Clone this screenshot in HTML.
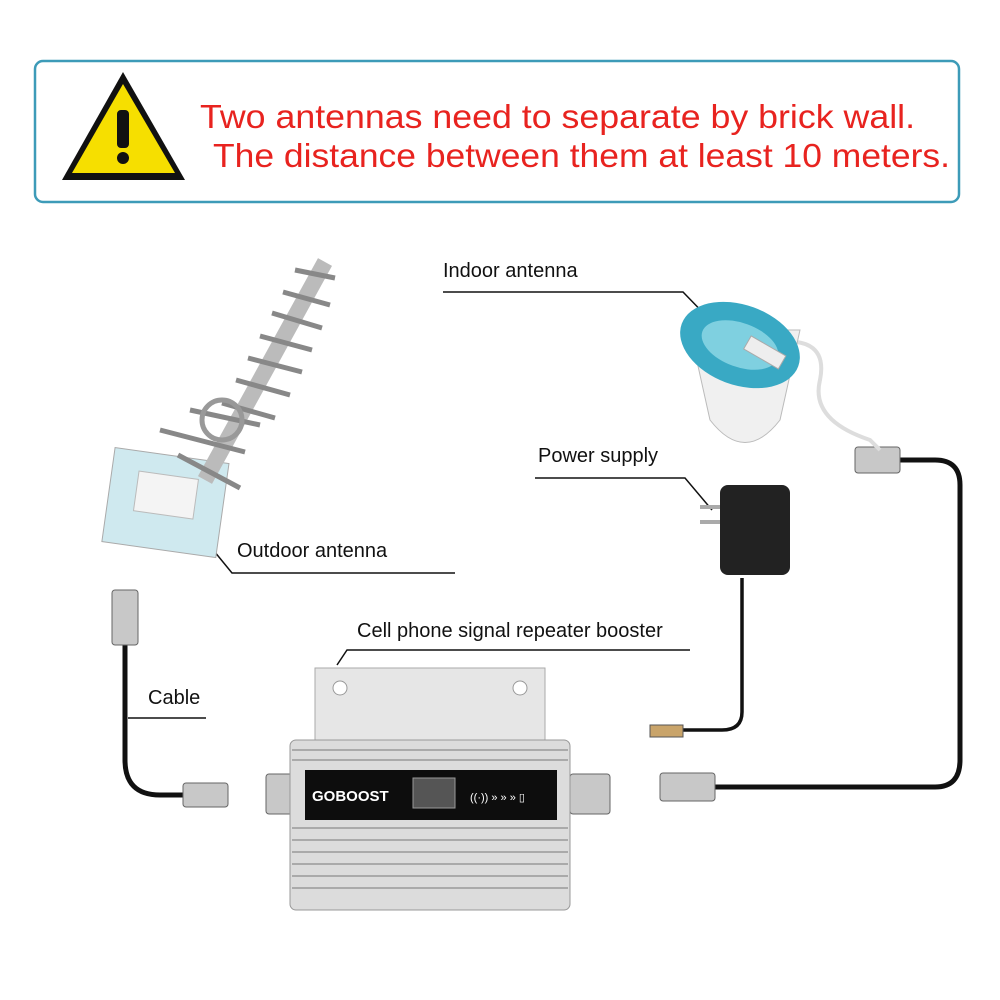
<!DOCTYPE html>
<html><head><style>
body{margin:0;background:#fff;}
svg{display:block;font-family:"Liberation Sans",sans-serif;}
</style></head><body>
<svg width="1000" height="1000" viewBox="0 0 1000 1000">
<rect width="1000" height="1000" fill="#fff"/>
<!-- banner -->
<rect x="35" y="61" width="924" height="141" rx="8" fill="#fff" stroke="#3d9bb8" stroke-width="2.5"/>
<polygon points="123,72 62,180 185,180" fill="#111"/>
<polygon points="123,84 72,173 175,173" fill="#f6df00"/>
<rect x="117" y="110" width="12" height="38" rx="4" fill="#111"/>
<circle cx="123" cy="158" r="6" fill="#111"/>
<text x="200" y="128" font-size="33" fill="#e8231f" textLength="715" lengthAdjust="spacingAndGlyphs">Two antennas need to separate by brick wall.</text>
<text x="213" y="167" font-size="33" fill="#e8231f" textLength="737" lengthAdjust="spacingAndGlyphs">The distance between them at least 10 meters.</text>

<!-- labels -->
<g font-size="20" fill="#111">
<text x="443" y="277">Indoor  antenna</text>
<text x="538" y="462">Power supply</text>
<text x="237" y="557">Outdoor  antenna</text>
<text x="357" y="637">Cell phone signal repeater booster</text>
<text x="148" y="704">Cable</text>
</g>
<g stroke="#111" stroke-width="1.5" fill="none">
<polyline points="443,292 683,292 715,325"/>
<polyline points="535,478 685,478 712,510"/>
<polyline points="205,540 232,573 455,573"/>
<polyline points="337,665 347,650 690,650"/>
<polyline points="128,718 206,718"/>
</g>

<!-- cables -->
<g stroke="#111" stroke-width="5" fill="none">
<path d="M125,645 L125,760 Q125,795 160,795 L185,795"/>
<path d="M715,787 L935,787 Q960,787 960,760 L960,485 Q960,460 935,460 L900,460"/>
</g>
<path d="M742,578 L742,712 Q742,730 722,730 L683,730" stroke="#111" stroke-width="3.5" fill="none"/>
<rect x="650" y="725" width="33" height="12" fill="#c9a46a" stroke="#555"/>

<!-- connectors -->
<g fill="#c8c8c8" stroke="#666">
<rect x="112" y="590" width="26" height="55" rx="3"/>
<rect x="183" y="783" width="45" height="24" rx="3"/>
<rect x="660" y="773" width="55" height="28" rx="3"/>
<rect x="855" y="447" width="45" height="26" rx="3"/>
<rect x="266" y="774" width="40" height="40" rx="3"/>
<rect x="570" y="774" width="40" height="40" rx="3"/>
</g>

<!-- booster -->
<rect x="315" y="668" width="230" height="100" fill="#e6e6e6" stroke="#aaa"/>
<circle cx="340" cy="688" r="7" fill="#fff" stroke="#999"/>
<circle cx="520" cy="688" r="7" fill="#fff" stroke="#999"/>
<rect x="290" y="740" width="280" height="170" rx="6" fill="#dcdcdc" stroke="#999"/>
<g stroke="#aaa" stroke-width="2">
<line x1="292" y1="750" x2="568" y2="750"/><line x1="292" y1="760" x2="568" y2="760"/>
<line x1="292" y1="828" x2="568" y2="828"/><line x1="292" y1="840" x2="568" y2="840"/>
<line x1="292" y1="852" x2="568" y2="852"/><line x1="292" y1="864" x2="568" y2="864"/>
<line x1="292" y1="876" x2="568" y2="876"/><line x1="292" y1="888" x2="568" y2="888"/>
</g>
<rect x="305" y="770" width="252" height="50" fill="#0d0d0d"/>
<text x="312" y="801" font-size="15" font-weight="bold" fill="#fff">GOBOOST</text>
<rect x="413" y="778" width="42" height="30" fill="#555" stroke="#999"/>
<text x="470" y="801" font-size="11" fill="#fff">((·)) » » » ▯</text>

<!-- indoor antenna -->
<path d="M760,345 Q830,330 820,380 Q810,420 870,440 L880,450" stroke="#ddd" stroke-width="4" fill="none"/>
<path d="M690,330 L800,330 L780,420 Q745,465 710,420 Z" fill="#f0f0f0" stroke="#bbb"/>
<ellipse cx="740" cy="345" rx="62" ry="40" fill="#39a9c4" transform="rotate(20 740 345)"/>
<ellipse cx="740" cy="345" rx="40" ry="22" fill="#7fd0e0" transform="rotate(20 740 345)"/>
<rect x="745" y="345" width="40" height="15" fill="#eee" stroke="#aaa" transform="rotate(30 765 352)"/>

<!-- adapter -->
<rect x="720" y="485" width="70" height="90" rx="8" fill="#222"/>
<rect x="700" y="505" width="20" height="4" fill="#aaa"/>
<rect x="700" y="520" width="20" height="4" fill="#aaa"/>

<!-- outdoor antenna -->
<rect x="108" y="455" width="115" height="95" fill="#cfe9ef" stroke="#aaa" transform="rotate(8 165 502)"/>
<rect x="135" y="475" width="60" height="40" fill="#f4f4f4" stroke="#bbb" transform="rotate(8 165 502)"/>
<line x1="325" y1="262" x2="205" y2="480" stroke="#bbb" stroke-width="16"/>
<g stroke="#888" stroke-width="5">
<line x1="295" y1="270" x2="335" y2="278"/><line x1="283" y1="292" x2="330" y2="305"/>
<line x1="272" y1="313" x2="322" y2="328"/><line x1="260" y1="336" x2="312" y2="350"/>
<line x1="248" y1="358" x2="302" y2="372"/><line x1="236" y1="380" x2="290" y2="395"/>
<line x1="222" y1="403" x2="275" y2="418"/><line x1="190" y1="410" x2="260" y2="425"/>
<line x1="160" y1="430" x2="245" y2="452"/><line x1="178" y1="455" x2="240" y2="488"/>
</g>
<circle cx="222" cy="420" r="20" fill="none" stroke="#999" stroke-width="5"/>
</svg>
</body></html>
